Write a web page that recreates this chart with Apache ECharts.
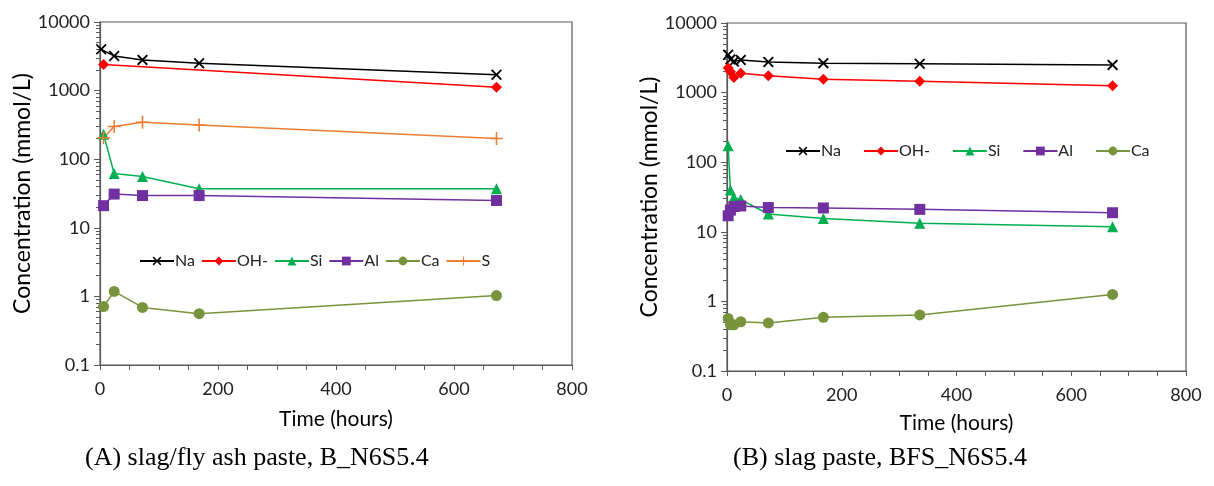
<!DOCTYPE html>
<html>
<head>
<meta charset="utf-8">
<script src="https://cdn.jsdelivr.net/npm/echarts@6/dist/echarts.min.js"></script>
<style>html,body{margin:0;padding:0;background:#fff}#c{width:1214px;height:486px}</style>
</head>
<body>
<div id="c"></div>
<script>
// ---- data: chart A (slag/fly ash paste) ----
const timeA_Na = [2, 24, 72, 168, 672];
const timeA = [6, 24, 72, 168, 672];
const timeA_OH = [6, 672];
const naA = [4000, 3200, 2800, 2500, 1700];
const ohA = [2400, 1120];
const siA = [232, 62, 56, 37, 37];
const alA = [21, 31, 29.5, 29.5, 25];
const caA = [0.71, 1.18, 0.69, 0.56, 1.03];
const sA = [205, 300, 345, 316, 200];
// ---- data: chart B (slag paste) ----
const timeB = [2, 6, 12, 24, 72, 168, 336, 672];
const naB = [3500, 3000, 2800, 2950, 2750, 2650, 2600, 2500];
const ohB = [2250, 2000, 1650, 1900, 1750, 1550, 1450, 1250];
const siB = [172, 40, 31, 29, 18, 15.5, 13.3, 11.8];
const alB = [17, 20.5, 23, 23.5, 22.3, 22, 21, 18.8];
const caB = [0.57, 0.46, 0.46, 0.51, 0.49, 0.59, 0.64, 1.26];
// ---- axes / text ----
const yTicks = [0.1, 1, 10, 100, 1000, 10000];
const yTickLabels = ['0.1', '1', '10', '100', '1000', '10000'];
const xTicks = [0, 200, 400, 600, 800];
const yTitle = 'Concentration (mmol/L)';
const xTitle = 'Time (hours)';
const captionA = '(A) slag/fly ash paste, B_N6S5.4';
const captionB = '(B) slag paste, BFS_N6S5.4';
const legendA = ['Na', 'OH-', 'Si', 'Al', 'Ca', 'S'];
const legendB = ['Na', 'OH-', 'Si', 'Al', 'Ca'];

const minorY = [];
for (let d = 0; d < yTicks.length - 1; d++) {
  for (let k = 2; k <= 9; k++) minorY.push(+(yTicks[d] * k).toPrecision(6));
}

const FONT = 'Lato';
const AX = '#595959';
const XSYM = 'path://M0,1.2 L1.2,0 L5,3.8 L8.8,0 L10,1.2 L6.2,5 L10,8.8 L8.8,10 L5,6.2 L1.2,10 L0,8.8 L3.8,5 Z';
const PSYM = 'path://M4.4,0 H5.6 V4.4 H10 V5.6 H5.6 V10 H4.4 V5.6 H0 V4.4 H4.4 Z';

const style = {
  'Na': {color: '#000000', symbol: XSYM, size: 11},
  'OH-': {color: '#FF0000', symbol: 'diamond', size: 11},
  'Si': {color: '#00B050', symbol: 'triangle', size: 11},
  'Al': {color: '#7030A0', symbol: 'rect', size: 11},
  'Ca': {color: '#77933C', symbol: 'circle', size: 11},
  'S': {color: '#ED7D31', symbol: PSYM, size: 13}
};

function zip(t, v) { return t.map((x, i) => [x, v[i]]); }
function mk(name, idx, t, v) {
  const s = style[name];
  return {
    name: name, type: 'line', xAxisIndex: idx, yAxisIndex: idx * 2,
    data: zip(t, v), symbol: s.symbol, symbolSize: s.size,
    showSymbol: true, animation: false,
    lineStyle: {color: s.color, width: 1.5},
    itemStyle: {color: s.color},
    z: 3
  };
}

function xAxis(gi) {
  return {
    type: 'value', gridIndex: gi, min: 0, max: 800, interval: 200,
    name: xTitle, nameLocation: 'middle', nameGap: gi === 0 ? 44 : 42,
    nameTextStyle: {fontFamily: FONT, fontSize: 21, color: '#000'},
    axisLine: {show: true, lineStyle: {color: AX, width: 1.2}},
    axisTick: {show: true, length: 5, lineStyle: {color: AX}},
    minorTick: {show: true, splitNumber: 4, length: 5, lineStyle: {color: AX}},
    splitLine: {show: false}, minorSplitLine: {show: false},
    axisLabel: {fontFamily: FONT, fontSize: 18, color: '#222', margin: 15,
      formatter: v => String(xTicks[xTicks.indexOf(v)])}
  };
}
function yAxes(gi) {
  return [{
    type: 'log', logBase: 10, gridIndex: gi, min: 0.1, max: 10000,
    name: yTitle, nameLocation: 'middle', nameGap: 63,
    nameTextStyle: {fontFamily: FONT, fontSize: 23, color: '#000'},
    axisLine: {show: true, lineStyle: {color: AX, width: 1.2}},
    axisTick: {show: true, length: 6, lineStyle: {color: AX}},
    splitLine: {show: false},
    axisLabel: {fontFamily: FONT, fontSize: 18, color: '#222', margin: 10,
      formatter: v => yTickLabels[Math.round(Math.log10(v)) + 1]}
  }, {
    type: 'log', logBase: 10, gridIndex: gi, min: 0.1, max: 10000, position: 'left',
    axisLine: {show: false},
    axisTick: {show: true, length: 4, customValues: minorY, lineStyle: {color: AX}},
    axisLabel: {show: false}, splitLine: {show: false}
  }];
}

const chart = echarts.init(document.getElementById('c'), null, {renderer: 'canvas'});
const legendCommon = {
  selectedMode: false, itemWidth: 34, itemHeight: 11,
  textStyle: {fontFamily: FONT, fontSize: 16, color: '#222', padding: [0, 0, 0, -4]}
};
chart.setOption({
  backgroundColor: '#fff',
  animation: false,
  grid: [
    {left: 100, top: 22, width: 472, height: 343, show: true, borderColor: AX, borderWidth: 1.2, backgroundColor: 'transparent'},
    {left: 727, top: 23, width: 459, height: 348, show: true, borderColor: AX, borderWidth: 1.2, backgroundColor: 'transparent'}
  ],
  xAxis: [xAxis(0), xAxis(1)],
  yAxis: yAxes(0).concat(yAxes(1)),
  legend: [
    Object.assign({data: legendA, left: 134, top: 248, itemGap: 6}, legendCommon),
    Object.assign({data: legendB, left: 780, top: 138, itemGap: 22}, legendCommon)
  ],
  graphic: [
    {type: 'text', left: 85, top: 445, style: {text: captionA, font: '26px "Liberation Serif"', fill: '#000'}},
    {type: 'text', left: 733, top: 445, style: {text: captionB, font: '26px "Liberation Serif"', fill: '#000'}}
  ],
  series: [
    mk('Na', 0, timeA_Na, naA),
    mk('OH-', 0, timeA_OH, ohA),
    mk('Si', 0, timeA, siA),
    mk('Al', 0, timeA, alA),
    mk('Ca', 0, timeA, caA),
    mk('S', 0, timeA, sA),
    mk('Na', 1, timeB, naB),
    mk('OH-', 1, timeB, ohB),
    mk('Si', 1, timeB, siB),
    mk('Al', 1, timeB, alB),
    mk('Ca', 1, timeB, caB)
  ]
});
</script>
</body>
</html>
